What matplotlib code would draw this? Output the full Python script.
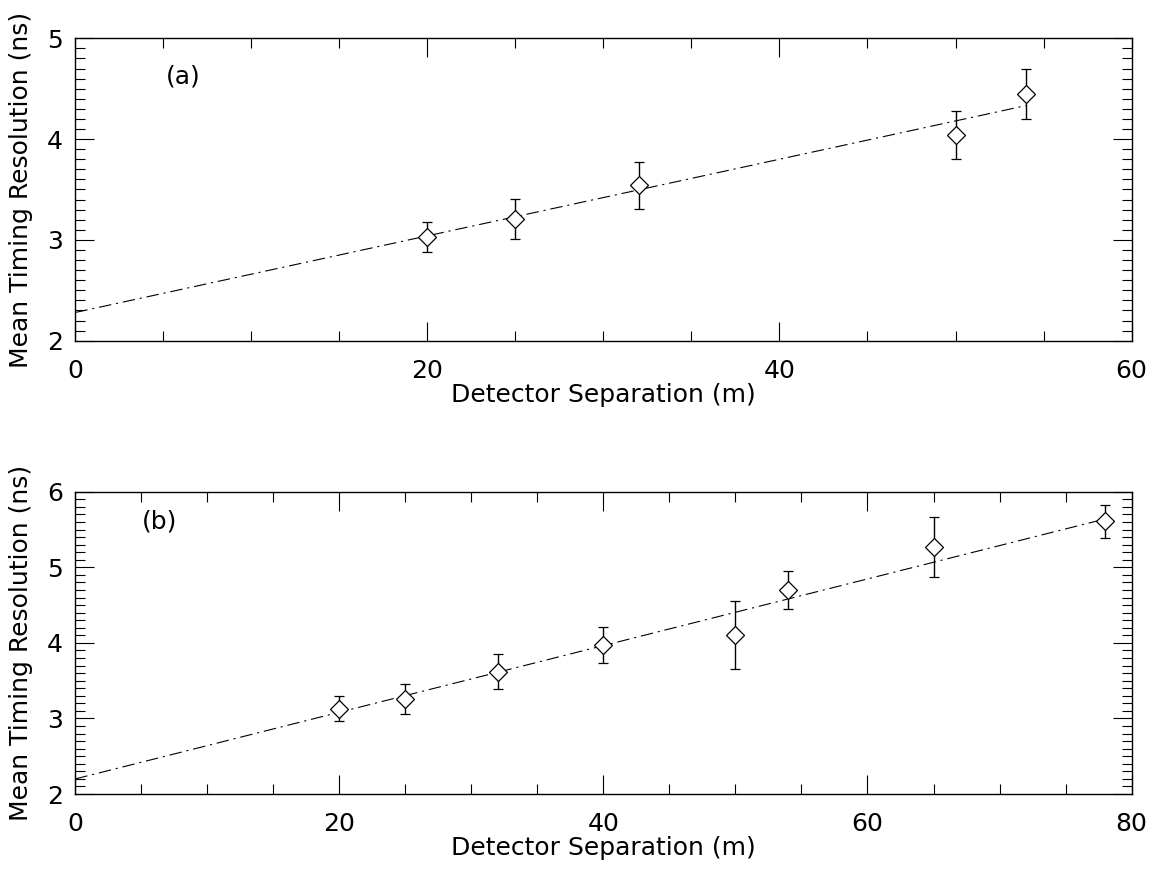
import numpy as np
import matplotlib
matplotlib.use("Agg")
import matplotlib.pyplot as plt
from matplotlib.ticker import MultipleLocator

plt.rcParams['font.family'] = ['DejaVu Sans']
plt.rcParams['lines.scale_dashes'] = False

# panel (a)
sep_a = [20, 25, 32, 50, 54]
res_a = [3.03, 3.21, 3.54, 4.04, 4.45]
err_a = [0.15, 0.20, 0.23, 0.24, 0.25]
fit_a = (2.28, 0.038)   # intercept, slope

# panel (b)
sep_b = [20, 25, 32, 40, 50, 54, 65, 78]
res_b = [3.13, 3.26, 3.62, 3.97, 4.11, 4.70, 5.27, 5.61]
err_b = [0.17, 0.20, 0.23, 0.235, 0.45, 0.25, 0.40, 0.22]
fit_b = (2.20, 0.0441)

panels = [
    dict(x=sep_a, y=res_a, e=err_a, fit=fit_a, xlim=(0, 60), ylim=(2, 5),
         label='(a)', lpos=(0.102, 0.872), rect=[0.0653, 0.6102, 0.9161, 0.3460]),
    dict(x=sep_b, y=res_b, e=err_b, fit=fit_b, xlim=(0, 80), ylim=(2, 6),
         label='(b)', lpos=(0.080, 0.900), rect=[0.0653, 0.0915, 0.9161, 0.3459]),
]

fig = plt.figure(figsize=(11.53, 8.74), dpi=100)

for p in panels:
    ax = fig.add_axes(p['rect'])
    xs = np.array([0, max(p['x'])])
    b0, b1 = p['fit']
    ax.plot(xs, b0 + b1 * xs, color='black', lw=0.8, dashes=(9, 3.5, 1.5, 3.5))
    ax.errorbar(p['x'], p['y'], yerr=p['e'], fmt='D', ms=9.5, mfc='white', mec='black',
                mew=0.9, ecolor='black', elinewidth=1.0, capsize=3.7, capthick=1.2)
    ax.set_xlim(*p['xlim'])
    ax.set_ylim(*p['ylim'])
    ax.xaxis.set_major_locator(MultipleLocator(20))
    ax.xaxis.set_minor_locator(MultipleLocator(5))
    ax.yaxis.set_major_locator(MultipleLocator(1))
    ax.yaxis.set_minor_locator(MultipleLocator(0.1))
    ax.tick_params(which='both', direction='in', top=True, right=True, width=0.8,
                   labelsize=18)
    ax.tick_params(axis='x', which='both', pad=13)
    ax.tick_params(axis='y', which='both', pad=9)
    ax.tick_params(which='major', length=14)
    ax.tick_params(which='minor', length=7)
    for s in ax.spines.values():
        s.set_linewidth(1.0)
    ax.set_xlabel('Detector Separation (m)', fontsize=18, labelpad=0)
    ax.set_ylabel('Mean Timing Resolution (ns)', fontsize=18, labelpad=10)
    ax.text(p['lpos'][0], p['lpos'][1], p['label'], transform=ax.transAxes,
            ha='center', va='center', fontsize=18)

fig.savefig('out.png', dpi=100)
